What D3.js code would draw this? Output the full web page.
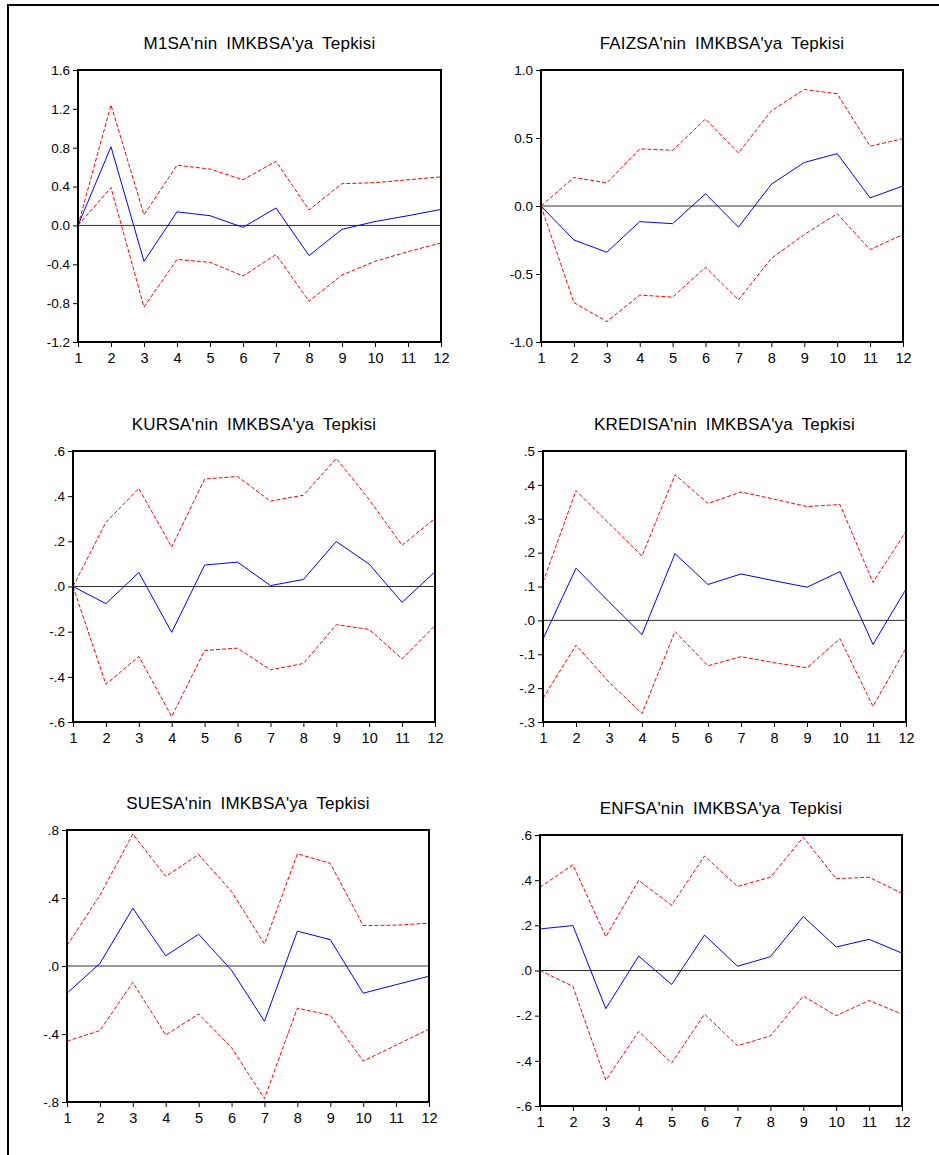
<!DOCTYPE html>
<html>
<head>
<meta charset="utf-8">
<script src="https://d3js.org/d3.v7.min.js"></script>
<style>
  body { margin: 0; background: #fff; }
  svg text { font-family: "Liberation Sans", Arial, sans-serif; fill: #000; }
</style>
</head>
<body>
<div id="chart"></div>
<script>

// Impulse responses to IMKBSA, 12 periods, with +/- 2 s.e. bands

const periods = [1, 2, 3, 4, 5, 6, 7, 8, 9, 10, 11, 12];

const titles = [
  "M1SA'nin IMKBSA'ya Tepkisi",
  "FAIZSA'nin IMKBSA'ya Tepkisi",
  "KURSA'nin IMKBSA'ya Tepkisi",
  "KREDISA'nin IMKBSA'ya Tepkisi",
  "SUESA'nin IMKBSA'ya Tepkisi",
  "ENFSA'nin IMKBSA'ya Tepkisi"
];

// M1SA
const m1Resp  = [0.00, 0.81, -0.37, 0.14, 0.10, -0.02, 0.18, -0.31, -0.04, 0.04, 0.10, 0.165];
const m1Upper = [0.00, 1.24, 0.11, 0.62, 0.58, 0.47, 0.66, 0.16, 0.43, 0.44, 0.47, 0.50];
const m1Lower = [0.00, 0.39, -0.84, -0.35, -0.38, -0.52, -0.30, -0.78, -0.51, -0.37, -0.27, -0.18];

// FAIZSA
const faizResp  = [0.00, -0.25, -0.34, -0.115, -0.13, 0.09, -0.155, 0.16, 0.32, 0.385, 0.06, 0.147];
const faizUpper = [0.00, 0.21, 0.17, 0.42, 0.41, 0.64, 0.39, 0.70, 0.857, 0.825, 0.44, 0.495];
const faizLower = [0.00, -0.71, -0.85, -0.655, -0.67, -0.45, -0.69, -0.385, -0.21, -0.057, -0.32, -0.21];

// KURSA
const kurResp  = [0.00, -0.076, 0.062, -0.203, 0.095, 0.108, 0.004, 0.031, 0.199, 0.099, -0.07, 0.065];
const kurUpper = [0.00, 0.284, 0.434, 0.175, 0.476, 0.487, 0.378, 0.404, 0.567, 0.385, 0.182, 0.302];
const kurLower = [0.00, -0.433, -0.31, -0.576, -0.283, -0.273, -0.369, -0.341, -0.169, -0.19, -0.32, -0.173];

// KREDISA
const krediResp  = [-0.055, 0.154, 0.055, -0.042, 0.197, 0.106, 0.137, 0.117, 0.098, 0.144, -0.071, 0.092];
const krediUpper = [0.113, 0.383, 0.286, 0.19, 0.43, 0.345, 0.379, 0.358, 0.336, 0.342, 0.112, 0.263];
const krediLower = [-0.23, -0.073, -0.182, -0.275, -0.033, -0.134, -0.107, -0.125, -0.14, -0.054, -0.254, -0.082];

// SUESA
const sueResp  = [-0.16, 0.015, 0.34, 0.06, 0.187, -0.025, -0.325, 0.205, 0.155, -0.16, -0.11, -0.06];
const sueUpper = [0.12, 0.416, 0.776, 0.527, 0.656, 0.438, 0.13, 0.66, 0.604, 0.238, 0.24, 0.252];
const sueLower = [-0.442, -0.38, -0.096, -0.406, -0.282, -0.48, -0.78, -0.248, -0.29, -0.559, -0.466, -0.371];

// ENFSA
const enfResp  = [0.184, 0.199, -0.169, 0.064, -0.062, 0.157, 0.019, 0.061, 0.239, 0.104, 0.138, 0.077];
const enfUpper = [0.369, 0.468, 0.15, 0.399, 0.289, 0.507, 0.372, 0.413, 0.59, 0.407, 0.413, 0.342];
const enfLower = [0.00, -0.07, -0.486, -0.27, -0.41, -0.193, -0.333, -0.29, -0.113, -0.2, -0.133, -0.193];

// y tick values and their labels
const m1Ticks    = [-1.2, -0.8, -0.4, 0, 0.4, 0.8, 1.2, 1.6];
const m1Labels   = ["-1.2", "-0.8", "-0.4", "0.0", "0.4", "0.8", "1.2", "1.6"];
const faizTicks  = [-1.0, -0.5, 0, 0.5, 1.0];
const faizLabels = ["-1.0", "-0.5", "0.0", "0.5", "1.0"];
const kurTicks   = [-0.6, -0.4, -0.2, 0, 0.2, 0.4, 0.6];
const kurLabels  = ["-.6", "-.4", "-.2", ".0", ".2", ".4", ".6"];
const krediTicks  = [-0.3, -0.2, -0.1, 0, 0.1, 0.2, 0.3, 0.4, 0.5];
const krediLabels = ["-.3", "-.2", "-.1", ".0", ".1", ".2", ".3", ".4", ".5"];
const sueTicks   = [-0.8, -0.4, 0, 0.4, 0.8];
const sueLabels  = ["-.8", "-.4", ".0", ".4", ".8"];
const enfTicks   = [-0.6, -0.4, -0.2, 0, 0.2, 0.4, 0.6];
const enfLabels  = ["-.6", "-.4", "-.2", ".0", ".2", ".4", ".6"];

// panels: data + where each plot box sits on the page
const panels = [
  {resp: m1Resp, upper: m1Upper, lower: m1Lower, ticks: m1Ticks, labels: m1Labels,
   box: {left: 78, right: 441, top: 70, bottom: 342}},
  {resp: faizResp, upper: faizUpper, lower: faizLower, ticks: faizTicks, labels: faizLabels,
   box: {left: 541, right: 903, top: 70, bottom: 342}},
  {resp: kurResp, upper: kurUpper, lower: kurLower, ticks: kurTicks, labels: kurLabels,
   box: {left: 73, right: 435, top: 451, bottom: 722}},
  {resp: krediResp, upper: krediUpper, lower: krediLower, ticks: krediTicks, labels: krediLabels,
   box: {left: 543, right: 906, top: 451, bottom: 722}},
  {resp: sueResp, upper: sueUpper, lower: sueLower, ticks: sueTicks, labels: sueLabels,
   box: {left: 67, right: 429, top: 830, bottom: 1102}},
  {resp: enfResp, upper: enfUpper, lower: enfLower, ticks: enfTicks, labels: enfLabels,
   box: {left: 540, right: 902, top: 835, bottom: 1106}}
];

const width = 939;
const height = 1155;

const svg = d3.select("#chart")
  .append("svg")
  .attr("width", width)
  .attr("height", height);

// outer frame (only top and left edges show)
svg.append("path")
  .attr("d", `M8,${height} L8,5 L${width},5`)
  .attr("fill", "none")
  .attr("stroke", "#000")
  .attr("stroke-width", 2);

panels.forEach(function(p, k) {
  const b = p.box;

  const x = d3.scaleLinear()
    .domain([periods[0], periods[periods.length - 1]])
    .range([b.left, b.right]);

  const y = d3.scaleLinear()
    .domain([p.ticks[0], p.ticks[p.ticks.length - 1]])
    .range([b.bottom, b.top]);

  const g = svg.append("g");

  // title
  g.append("text")
    .attr("x", (b.left + b.right) / 2)
    .attr("y", b.top - 21)
    .attr("text-anchor", "middle")
    .attr("font-size", "17px")
    .style("letter-spacing", "0.2px")
    .style("word-spacing", "4px")
    .text(titles[k]);

  // y axis
  const yAxis = g.append("g")
    .attr("transform", `translate(${b.left},0)`)
    .call(d3.axisLeft(y)
      .tickValues(p.ticks)
      .tickFormat((d, i) => p.labels[i])
      .tickSize(5)
      .tickPadding(3));
  yAxis.attr("font-size", "13.5px").attr("font-family", null);
  yAxis.select(".domain").remove();
  yAxis.selectAll("line").attr("stroke", "#000");

  // x axis
  const xAxis = g.append("g")
    .attr("transform", `translate(0,${b.bottom})`)
    .call(d3.axisBottom(x)
      .tickValues(periods)
      .tickFormat(d3.format("d"))
      .tickSize(5)
      .tickPadding(6));
  xAxis.attr("font-size", "14.5px").attr("font-family", null);
  xAxis.select(".domain").remove();
  xAxis.selectAll("line").attr("stroke", "#000");

  // zero line
  g.append("line")
    .attr("x1", b.left)
    .attr("x2", b.right)
    .attr("y1", y(0))
    .attr("y2", y(0))
    .attr("stroke", "#333")
    .attr("stroke-width", 1);

  const line = d3.line()
    .x((d, i) => x(periods[i]))
    .y(d => y(d));

  // confidence bands
  [p.upper, p.lower].forEach(function(band) {
    g.append("path")
      .datum(band)
      .attr("d", line)
      .attr("fill", "none")
      .attr("stroke", "#ff0000")
      .attr("stroke-width", 1)
      .attr("stroke-dasharray", "4,2");
  });

  // response
  g.append("path")
    .datum(p.resp)
    .attr("d", line)
    .attr("fill", "none")
    .attr("stroke", "#0000ff")
    .attr("stroke-width", 1);

  // plot frame
  g.append("rect")
    .attr("x", b.left)
    .attr("y", b.top)
    .attr("width", b.right - b.left)
    .attr("height", b.bottom - b.top)
    .attr("fill", "none")
    .attr("stroke", "#000")
    .attr("stroke-width", 2);
});

</script>
</body>
</html>
